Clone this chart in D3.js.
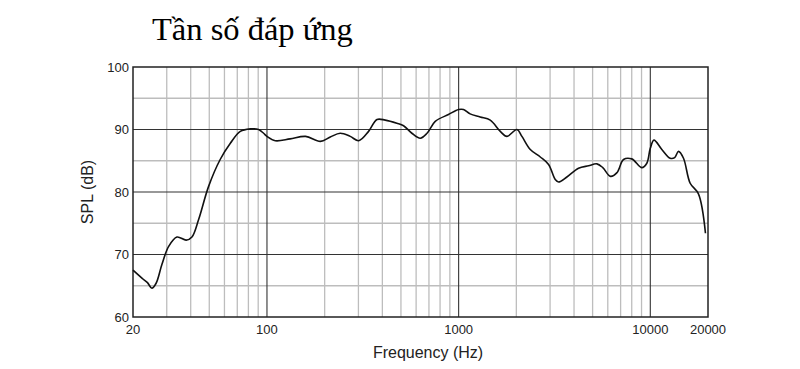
<!DOCTYPE html>
<meta charset="utf-8">
<head>
  <style>
    body { margin: 0; background: #fff; }
    svg { display: block; }
    .tick-label { font-family: "Liberation Sans", Arial, sans-serif; font-size: 13px; fill: #222; }
    .axis-title { font-family: "Liberation Sans", Arial, sans-serif; font-size: 16px; fill: #222; }
    .title { font-family: "Liberation Serif", "Times New Roman", serif; font-size: 32.5px; fill: #000; }
  </style>
</head>
<body>
  <div id="chart"></div>
  <script src="https://cdn.jsdelivr.net/npm/d3@7"></script>
  <script>
    // frequency response
    var freq = [20, 22.7, 23.8, 25.1, 26.4, 28.3, 30.7, 33.9, 37.9, 40.6, 44, 49.6, 57, 64.4, 72.6, 81.9, 90.4, 96,
      100, 110.5, 132, 159, 190, 214, 241, 272, 301, 339, 375, 414, 476, 516, 570, 631, 684, 755, 885,
      1000, 1060, 1148, 1295, 1462, 1649, 1786, 2015, 2139, 2365, 2667, 2946, 3192, 3322, 3671, 4222, 4763, 5265,
      5650, 6200, 6700, 7250, 8000, 9036, 9592, 10000, 10450, 11486, 12694, 13400, 14028, 14900, 16145, 17830, 19400];
    var spl = [67.5, 66.0, 65.5, 64.6, 65.4, 68.4, 71.3, 72.8, 72.3, 72.8, 75.6, 80.9, 85.2, 87.8, 89.7, 90.1, 90.0, 89.4,
      88.9, 88.2, 88.5, 88.9, 88.1, 88.8, 89.4, 88.9, 88.2, 89.7, 91.6, 91.5, 91.0, 90.6, 89.4, 88.6, 89.4, 91.3, 92.4,
      93.2, 93.2, 92.5, 92.0, 91.5, 89.7, 88.9, 90.0, 88.9, 86.8, 85.6, 84.4, 82.0, 81.6, 82.4, 83.8, 84.2, 84.5,
      83.9, 82.5, 83.1, 85.2, 85.3, 83.9, 84.6, 87.0, 88.3, 86.8, 85.4, 85.5, 86.5, 85.4, 81.4, 79.7, 73.4];

    var xTicks = [20, 100, 1000, 10000, 20000];
    var yTicks = [60, 70, 80, 90, 100];
    var xMinor = [30, 40, 50, 60, 70, 80, 90, 200, 300, 400, 500, 600, 700, 800, 900,
      2000, 3000, 4000, 5000, 6000, 7000, 8000, 9000];
    var yMinor = [65, 75, 85, 95];

    var width = 800, height = 369;
    var plotLeft = 133, plotTop = 67, plotW = 575, plotH = 250;

    var svg = d3.select("#chart").append("svg")
      .attr("width", width)
      .attr("height", height);

    var x = d3.scaleLog().domain([20, 20000]).range([plotLeft, plotLeft + plotW]);
    var y = d3.scaleLinear().domain([60, 100]).range([plotTop + plotH, plotTop]);

    // 補助グリッド（薄い線）
    svg.selectAll(".vminor").data(xMinor).enter().append("line")
      .attr("x1", d => x(d)).attr("x2", d => x(d))
      .attr("y1", plotTop).attr("y2", plotTop + plotH)
      .attr("stroke", "#bdbdbd").attr("stroke-width", 1.3);
    svg.selectAll(".hminor").data(yMinor).enter().append("line")
      .attr("x1", plotLeft).attr("x2", plotLeft + plotW)
      .attr("y1", d => y(d)).attr("y2", d => y(d))
      .attr("stroke", "#bdbdbd").attr("stroke-width", 1.3);

    // 主グリッド
    svg.selectAll(".vmajor").data([100, 1000, 10000]).enter().append("line")
      .attr("x1", d => x(d)).attr("x2", d => x(d))
      .attr("y1", plotTop).attr("y2", plotTop + plotH)
      .attr("stroke", "#333").attr("stroke-width", 1.1);
    svg.selectAll(".hmajor").data([70, 80, 90]).enter().append("line")
      .attr("x1", plotLeft).attr("x2", plotLeft + plotW)
      .attr("y1", d => y(d)).attr("y2", d => y(d))
      .attr("stroke", "#333").attr("stroke-width", 1.1);

    // 枠
    svg.append("rect")
      .attr("x", plotLeft).attr("y", plotTop)
      .attr("width", plotW).attr("height", plotH)
      .attr("fill", "none").attr("stroke", "#222").attr("stroke-width", 1.5);

    // 曲線
    var pts = freq.map((f, i) => [f, spl[i]]);
    svg.append("path")
      .datum(pts)
      .attr("fill", "none")
      .attr("stroke", "#111")
      .attr("stroke-width", 1.6)
      .attr("stroke-linejoin", "round")
      .attr("d", d3.line().x(d => x(d[0])).y(d => y(d[1])).curve(d3.curveCatmullRom));

    // 目盛りラベル
    svg.selectAll(".xl").data(xTicks).enter().append("text")
      .attr("class", "tick-label")
      .attr("x", d => x(d)).attr("y", plotTop + plotH + 17)
      .attr("text-anchor", "middle")
      .text(d => d);
    svg.selectAll(".yl").data(yTicks).enter().append("text")
      .attr("class", "tick-label")
      .attr("x", plotLeft - 4).attr("y", d => y(d) + 4.5)
      .attr("text-anchor", "end")
      .text(d => d);

    svg.append("text").attr("class", "axis-title")
      .attr("x", 428).attr("y", 358)
      .attr("text-anchor", "middle")
      .text("Frequency (Hz)");
    svg.append("text").attr("class", "axis-title")
      .attr("transform", "translate(93," + (plotTop + plotH / 2) + ") rotate(-90)")
      .attr("text-anchor", "middle")
      .text("SPL (dB)");

    svg.append("text").attr("class", "title")
      .attr("x", 152).attr("y", 40)
      .text("Tần số đáp ứng");
  </script>
</body>
